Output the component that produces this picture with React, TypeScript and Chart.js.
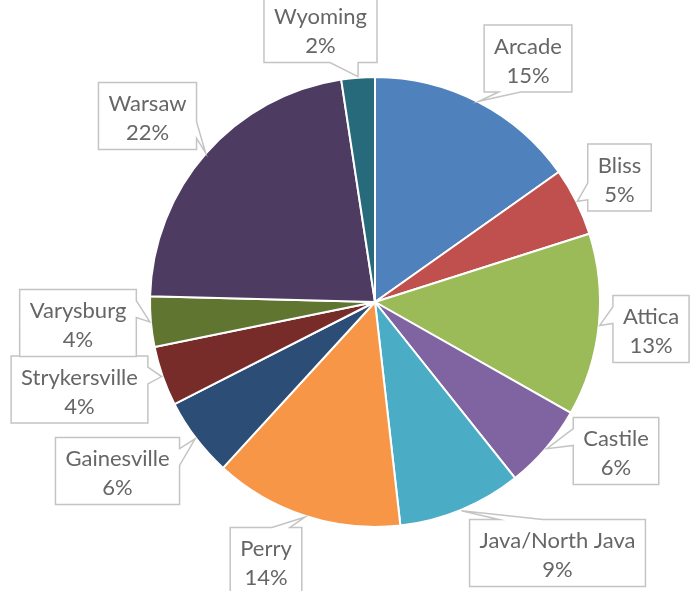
import React, { useEffect, useRef } from "react";
import { Chart, registerables } from "chart.js";

Chart.register(...registerables);

const towns = [
  "Arcade",
  "Bliss",
  "Attica",
  "Castile",
  "Java/North Java",
  "Perry",
  "Gainesville",
  "Strykersville",
  "Varysburg",
  "Warsaw",
  "Wyoming",
];
const shares = [15.2, 4.9, 13.1, 6.1, 8.9, 13.6, 5.7, 4.3, 3.6, 22.2, 2.4];
const sliceColors = [
  "#4F81BD",
  "#C0504D",
  "#9BBB59",
  "#8064A2",
  "#4BACC6",
  "#F79646",
  "#2C4D75",
  "#772C2A",
  "#5F7530",
  "#4D3B62",
  "#276A7C",
];
// callout box centre offsets relative to pie centre (layout only)
const calloutOffsets: [number, number][] = [
  [153, -243.5],
  [244.5, -124.5],
  [276, 27],
  [241, 149],
  [182.5, 251],
  [-109, 259],
  [-257.5, 169],
  [-295.5, 87.5],
  [-297, 21],
  [-227.5, -186],
  [-54.5, -273],
];

const FONT = "22px Lato";
const BOX_H = 67;
const PAD_X = 10;

const calloutPlugin = {
  id: "callouts",
  afterDraw(chart: any) {
    const ctx = chart.ctx as CanvasRenderingContext2D;
    const meta = chart.getDatasetMeta(0);
    const total = shares.reduce((a, b) => a + b, 0);
    ctx.save();
    ctx.font = FONT;
    meta.data.forEach((arc: any, i: number) => {
      const p = arc.getProps(["x", "y", "startAngle", "endAngle", "outerRadius"], true);
      const mid = (p.startAngle + p.endAngle) / 2;
      const tx = p.x + Math.cos(mid) * (p.outerRadius + 1);
      const ty = p.y + Math.sin(mid) * (p.outerRadius + 1);
      const [ox, oy] = calloutOffsets[i];
      const cx = p.x + ox;
      const cy = p.y + oy;
      const line1 = towns[i];
      const line2 = Math.round((shares[i] / total) * 100) + "%";
      const w = Math.max(ctx.measureText(line1).width, ctx.measureText(line2).width) + PAD_X * 2;
      const h = BOX_H;
      const l = cx - w / 2, t = cy - h / 2, r = l + w, b = t + h;
      const dxPos = tx - cx, dyPos = ty - cy;
      const inside = Math.abs(dxPos) < w / 2 && Math.abs(dyPos) < h / 2;
      const dq = (dxPos * h) / w;
      const vertical = Math.abs(dyPos) > Math.abs(dq);
      const x1 = l + (w * (dxPos > 0 ? 7 : 2)) / 12;
      const x2 = l + (w * (dxPos > 0 ? 10 : 5)) / 12;
      const y1 = t + (h * (dyPos > 0 ? 7 : 2)) / 12;
      const y2 = t + (h * (dyPos > 0 ? 10 : 5)) / 12;
      ctx.beginPath();
      ctx.moveTo(l, t);
      if (!inside && vertical && dyPos < 0) {
        ctx.lineTo(x1, t);
        ctx.lineTo(tx, ty);
        ctx.lineTo(x2, t);
      }
      ctx.lineTo(r, t);
      if (!inside && !vertical && dxPos > 0) {
        ctx.lineTo(r, y1);
        ctx.lineTo(tx, ty);
        ctx.lineTo(r, y2);
      }
      ctx.lineTo(r, b);
      if (!inside && vertical && dyPos > 0) {
        ctx.lineTo(x2, b);
        ctx.lineTo(tx, ty);
        ctx.lineTo(x1, b);
      }
      ctx.lineTo(l, b);
      if (!inside && !vertical && dxPos < 0) {
        ctx.lineTo(l, y2);
        ctx.lineTo(tx, ty);
        ctx.lineTo(l, y1);
      }
      ctx.closePath();
      ctx.fillStyle = "#ffffff";
      ctx.fill();
      ctx.strokeStyle = "#c4c4c4";
      ctx.lineWidth = 1.5;
      ctx.lineJoin = "miter";
      ctx.stroke();
      ctx.fillStyle = "#666666";
      ctx.textAlign = "center";
      ctx.textBaseline = "middle";
      ctx.fillText(line1, cx, cy - 12);
      ctx.fillText(line2, cx, cy + 17);
    });
    ctx.restore();
  },
};

export default function App() {
  const canvasRef = useRef<HTMLCanvasElement | null>(null);

  useEffect(() => {
    document.body.style.margin = "0";
    const canvas = canvasRef.current;
    if (!canvas) return;
    const chart = new Chart(canvas, {
      type: "pie",
      data: {
        labels: towns,
        datasets: [
          {
            data: shares,
            backgroundColor: sliceColors,
            borderColor: "#ffffff",
            borderWidth: 2,
          },
        ],
      },
      options: {
        responsive: false,
        animation: false,
        layout: { padding: { top: 76, bottom: 63, left: 149, right: 93 } },
        plugins: {
          legend: { display: false },
          tooltip: { enabled: false },
        },
      },
      plugins: [calloutPlugin],
    });
    return () => chart.destroy();
  }, []);

  return (
    <div style={{ width: 694, height: 591, background: "#fff" }}>
      <canvas ref={canvasRef} width={694} height={591} />
    </div>
  );
}
